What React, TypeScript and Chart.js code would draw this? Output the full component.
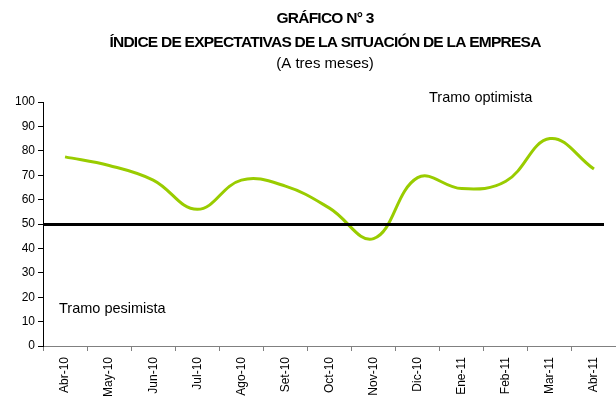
import React, { useEffect, useRef } from "react";
import { Chart, registerables } from "chart.js";

Chart.register(...registerables);

const TITLE_LINES = ["GRÁFICO N° 3", "ÍNDICE DE EXPECTATIVAS DE LA SITUACIÓN DE LA EMPRESA"];
const SUBTITLE = "(A tres meses)";
const CATEGORIES = [
  "Abr-10", "May-10", "Jun-10", "Jul-10", "Ago-10", "Set-10", "Oct-10",
  "Nov-10", "Dic-10", "Ene-11", "Feb-11", "Mar-11", "Abr-11",
];
const INDEX_VALUES = [77.5, 74, 68, 56, 68, 65.5, 56.5, 44, 69, 64.5, 67.5, 85, 72.5];
const THRESHOLD = 50;
const Y_MIN = 0;
const Y_MAX = 100;
const Y_STEP = 10;
const LABEL_OPTIMISTA = "Tramo optimista";
const LABEL_PESIMISTA = "Tramo pesimista";

const FONT = '"Liberation Sans", Arial, sans-serif';

const decorPlugin = {
  id: "decor",
  afterDatasetsDraw(chart: any) {
    const { ctx, chartArea, scales } = chart;
    const y = scales.y;
    ctx.save();
    // threshold line
    const py = Math.round(y.getPixelForValue(THRESHOLD)) + 0.5;
    ctx.strokeStyle = "#000";
    ctx.lineWidth = 3;
    ctx.beginPath();
    ctx.moveTo(chartArea.left, py);
    ctx.lineTo(chartArea.right - 12, py);
    ctx.stroke();
    // annotations
    ctx.fillStyle = "#000";
    ctx.font = `14.5px ${FONT}`;
    ctx.textAlign = "left";
    ctx.textBaseline = "alphabetic";
    ctx.fillText(LABEL_OPTIMISTA, chartArea.left + 386, chartArea.top);
    ctx.fillText(LABEL_PESIMISTA, chartArea.left + 16, y.getPixelForValue(13.5));
    ctx.restore();
  },
  afterDraw(chart: any) {
    const { ctx } = chart;
    ctx.save();
    ctx.fillStyle = "#000";
    ctx.textAlign = "center";
    ctx.textBaseline = "alphabetic";
    const cx = 325;
    ctx.font = `bold 15.5px ${FONT}`;
    (ctx as any).letterSpacing = "-0.75px";
    ctx.fillText(TITLE_LINES[0], cx, 23);
    ctx.fillText(TITLE_LINES[1], cx, 46.5);
    (ctx as any).letterSpacing = "0px";
    ctx.font = `15px ${FONT}`;
    ctx.fillText(SUBTITLE, cx, 68);
    ctx.restore();
  },
};

export default function App() {
  const ref = useRef<HTMLCanvasElement | null>(null);
  useEffect(() => {
    if (!ref.current) return;
    const chart = new Chart(ref.current, {
      type: "line",
      data: {
        labels: CATEGORIES,
        datasets: [
          {
            label: "Índice",
            data: INDEX_VALUES,
            borderColor: "#99CC00",
            backgroundColor: "#99CC00",
            borderWidth: 3,
            pointRadius: 0,
            tension: 0.4,
            fill: false,
          },
        ],
      },
      options: {
        responsive: false,
        animation: false,
        layout: { padding: { top: 102, left: 0, right: 0, bottom: 0 } },
        plugins: {
          legend: { display: false },
          title: { display: false },
          tooltip: { enabled: false },
        },
        scales: {
          x: {
            type: "category",
            offset: true,
            grid: {
              offset: true,
              drawOnChartArea: false,
              drawTicks: true,
              tickLength: 5,
              color: "#808080",
            },
            border: { color: "#808080", width: 1 },
            ticks: {
              autoSkip: false,
              minRotation: 90,
              maxRotation: 90,
              padding: 6,
              color: "#000",
              font: { family: FONT, size: 12 },
            },
            afterFit: (s: any) => {
              s.height = 59;
            },
          },
          y: {
            min: Y_MIN,
            max: Y_MAX,
            grid: {
              drawOnChartArea: false,
              drawTicks: true,
              tickLength: 5,
              color: "#000",
            },
            border: { color: "#000", width: 1 },
            ticks: {
              stepSize: Y_STEP,
              padding: 3,
              color: "#000",
              font: { family: FONT, size: 12 },
            },
            afterFit: (s: any) => {
              s.width = 43;
            },
          },
        },
      },
      plugins: [decorPlugin],
    });
    return () => chart.destroy();
  }, []);
  return (
    <div style={{ position: "fixed", left: 0, top: 0, width: 616, height: 405, background: "#fff" }}>
      <canvas ref={ref} width={616} height={405} style={{ display: "block" }} />
    </div>
  );
}
